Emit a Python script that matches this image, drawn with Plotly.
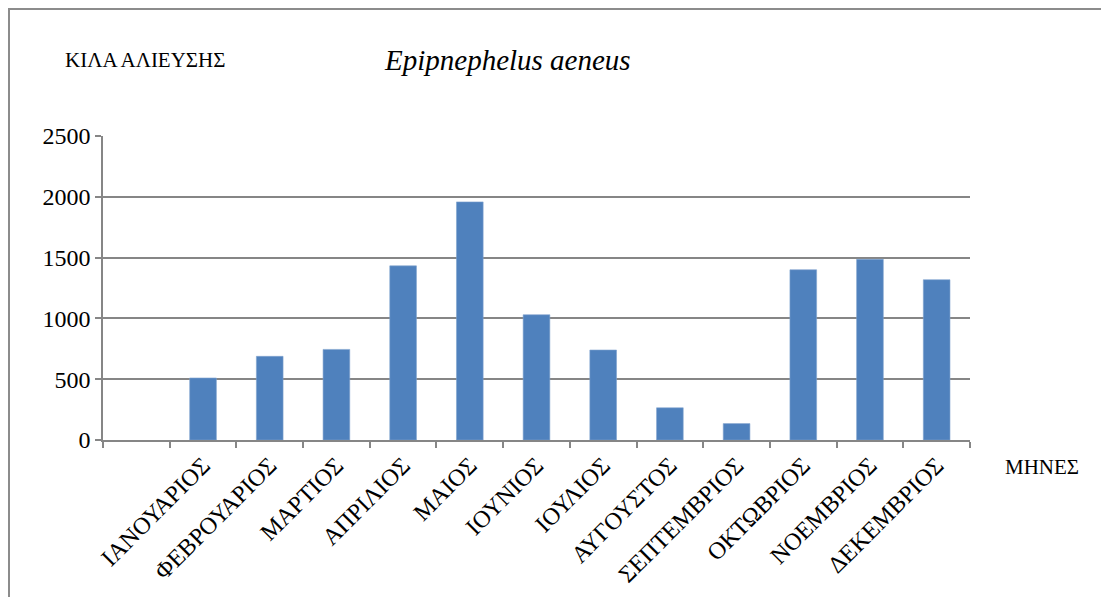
import plotly.graph_objects as go

# ==========================
# DATA
# ==========================

months = [
    " ",
    "ΙΑΝΟΥΑΡΙΟΣ",
    "ΦΕΒΡΟΥΑΡΙΟΣ",
    "ΜΑΡΤΙΟΣ",
    "ΑΠΡΙΛΙΟΣ",
    "ΜΑΙΟΣ",
    "ΙΟΥΝΙΟΣ",
    "ΙΟΥΛΙΟΣ",
    "ΑΥΓΟΥΣΤΟΣ",
    "ΣΕΠΤΕΜΒΡΙΟΣ",
    "ΟΚΤΩΒΡΙΟΣ",
    "ΝΟΕΜΒΡΙΟΣ",
    "ΔΕΚΕΜΒΡΙΟΣ",
]
kilos = [None, 510, 688, 745, 1432, 1958, 1030, 740, 265, 135, 1400, 1486, 1318]
y_ticks = [0, 500, 1000, 1500, 2000, 2500]

FONT = "Liberation Serif"
GRID = "#868686"

# page body adds an 8px offset, so work in screenshot pixels minus OFF
OFF = 8
W, H = 1109, 597
L, T = 103 - OFF, 136 - OFF
R = W - (970 - OFF)
B = H - (440 - OFF)
pw, ph = W - L - R, H - T - B


def px(x):
    return (x - OFF - L) / pw


def py(y):
    return (H - B - (y - OFF)) / ph


# ==========================
# CHART
# ==========================

fig = go.Figure()

fig.add_trace(
    go.Bar(
        x=months,
        y=kilos,
        marker=dict(color="#4F81BD", line=dict(color="#7FA3CF", width=0.6)),
        width=0.4,
    )
)

fig.update_xaxes(
    type="category",
    tickson="boundaries",
    ticks="outside",
    ticklen=6,
    tickcolor=GRID,
    tickwidth=1.5,
    tickangle=-45,
    showline=True,
    linecolor=GRID,
    linewidth=1.5,
    showgrid=False,
    tickfont=dict(family=FONT, size=24, color="black"),
)

fig.update_yaxes(
    range=[0, 2500],
    tickvals=y_ticks,
    ticks="outside",
    ticklen=6,
    tickcolor=GRID,
    tickwidth=1.5,
    showline=True,
    linecolor=GRID,
    linewidth=1.5,
    gridcolor=GRID,
    gridwidth=1.5,
    zeroline=False,
    tickfont=dict(family=FONT, size=24, color="black"),
)

# ==========================
# TEXTS
# ==========================

fig.add_annotation(
    text="ΚΙΛΑ ΑΛΙΕΥΣΗΣ",
    x=px(63), y=py(60),
    xref="paper", yref="paper",
    xanchor="left", yanchor="middle",
    showarrow=False,
    font=dict(family=FONT, size=21, color="black"),
)

fig.add_annotation(
    text="<i>Epipnephelus aeneus</i>",
    x=px(507), y=py(60),
    xref="paper", yref="paper",
    xanchor="center", yanchor="middle",
    showarrow=False,
    font=dict(family=FONT, size=29, color="black"),
)

fig.add_annotation(
    text="ΜΗΝΕΣ",
    x=px(1003), y=py(467),
    xref="paper", yref="paper",
    xanchor="left", yanchor="middle",
    showarrow=False,
    font=dict(family=FONT, size=21, color="black"),
)

# outer frame (left and top edges visible)
fig.add_shape(
    type="rect",
    xref="paper", yref="paper",
    x0=px(9), x1=px(W + 40),
    y0=py(H + 40), y1=py(9),
    line=dict(color="#8C8C8C", width=2),
    fillcolor="rgba(0,0,0,0)",
    layer="below",
)

# ==========================
# FINAL DESIGN
# ==========================

fig.update_layout(
    width=W,
    height=H,
    margin=dict(l=L, r=R, t=T, b=B),
    plot_bgcolor="white",
    paper_bgcolor="white",
    showlegend=False,
    bargap=0.6,
)

fig.write_html("out.html")
